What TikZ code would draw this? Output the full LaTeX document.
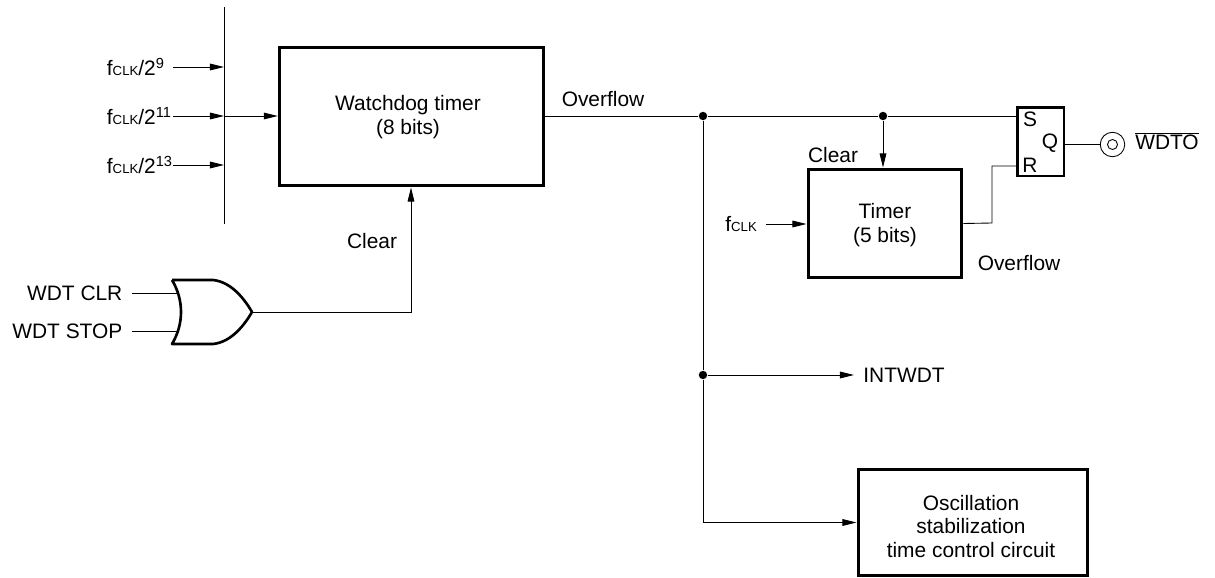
\documentclass[tikz,border=0pt]{standalone}
\usepackage{fontspec}
\setmainfont{Liberation Sans}
\usepackage{tikz}
\usetikzlibrary{arrows.meta}
\newcommand{\fclk}{f{\fontsize{7.5}{8}\selectfont CLK}}
\tikzset{
	txt/.style={font=\fontsize{11.9}{13.6}\selectfont,align=center,inner sep=0pt},
	block/.style={txt,draw,line width=1.7pt},
	wire/.style={line width=0.5pt},
	sig/.style={wire,-{Triangle[length=8pt,width=3.8pt]}},
	joint/.style={circle,fill=black,inner sep=0pt,minimum size=4.8pt},
	inlabel/.style={txt,anchor=east,text width=37.4pt,align=left},
	gatelabel/.style={txt,anchor=east,inner xsep=5pt},
	pin/.style={circle,draw,line width=0.5pt,inner sep=0pt}
}
\begin{document}
\begin{tikzpicture}[x=0.02cm,y=-0.02cm]
	\useasboundingbox (0,0) rectangle (1215,578);
	
	\node[block,minimum width=5.28cm,minimum height=2.78cm] (wdog) at (411.3,116.5) {};
	\node[txt] (wdogtext) at (408,117) {Watchdog timer\\(8 bits)};
	\node[block,minimum width=3.08cm,minimum height=2.18cm] (timer) at (885,223.5) {};
	\node[txt] (timertext) at (885,225) {Timer\\(5 bits)};
	\node[block,minimum width=4.6cm,minimum height=2.14cm] (osc) at (973,522.5) {};
	\node[txt] (osctext) at (971,526.5) {Oscillation\\stabilization\\time control circuit};
	\node[block,minimum width=0.94cm,minimum height=1.38cm] (sr) at (1040.5,141.5) {};
	
	\node[txt] (s) at (1030,119) {S};
	\node[txt] (q) at (1050,143) {Q};
	\node[txt] (r) at (1030,165) {R};
	
	\node[inlabel] (f9) at (173,67) {\fclk/2\textsuperscript{9}};
	\node[inlabel] (f11) at (173,116) {\fclk/2\textsuperscript{11}};
	\node[inlabel] (f13) at (173,165) {\fclk/2\textsuperscript{13}};
	\node[gatelabel] (ft) at (766,224) {\fclk};
	
	\node[txt] (ov1) at (603,99) {Overflow};
	\node[txt] (ov2) at (1019,263) {Overflow};
	\node[txt] (clr2) at (833,155) {Clear};
	\node[txt] (clr1) at (372,241) {Clear};
	\node[txt,anchor=west] (intwdt) at (863,375) {INTWDT};
	\node[txt] (wdto) at (1167,141) {$\overline{\mbox{WDTO}}$};
	
	\node[gatelabel] (clr) at (131.5,293.5) {WDT CLR};
	\node[gatelabel] (stop) at (131.5,331) {WDT STOP};
	
	\coordinate (bt) at (224,7);
	\coordinate (bb) at (224,224);
	\coordinate (b9) at (224,67);
	\coordinate (b11) at (224,116);
	\coordinate (b13) at (224,165);
	\draw[wire] (bt)--(bb);
	\draw[sig] (f9.east)--(b9);
	\draw[sig] (f13.east)--(b13);
	\draw[sig] (f11.east)--(b11);
	\draw[sig] (b11)--(b11 -| wdog.west);
	
	% or gate
	\draw[line width=1.5pt,line join=round] (172,280)--(213,280)
		.. controls (232,282) and (245,300) .. (252,312)
		.. controls (245,324) and (232,342) .. (213,344)
		--(172,344)
		.. controls (184,324) and (184,300) .. (172,280);
	\coordinate (g1) at (177,293.5);
	\coordinate (g2) at (177,331);
	\coordinate (gout) at (252,312);
	\coordinate (gup) at (411,312);
	\draw[wire] (clr.east)--(g1);
	\draw[wire] (stop.east)--(g2);
	\draw[sig] (gout)--(gup)--(gup |- wdog.south);
	
	\node[joint] (j1) at (703,116) {};
	\node[joint] (j2) at (883,116) {};
	\node[joint] (j3) at (703,375) {};
	\coordinate (sin) at (1017,116);
	\coordinate (jb) at (703,522.5);
	\coordinate (i1) at (854,375);
	\draw[wire] (j1 -| wdog.east)--(j1)--(j2)--(sin);
	\draw[sig] (j2)--(j2 |- timer.north);
	\draw[sig] (ft.east)--(ft.east -| timer.west);
	\draw[wire] (j1)--(j3)--(jb);
	\draw[sig] (j3)--(i1);
	\draw[sig] (jb)--(osc.west);
	
	\coordinate (r1) at (992,223);
	\coordinate (r2) at (992,166);
	\coordinate (rin) at (1017,166);
	\draw[wire] (timer.east)--(r1)--(r2)--(rin);
	
	\node[pin,minimum size=0.49cm] (term) at (1112.5,144.5) {};
	\node[pin,minimum size=0.2cm] (terminner) at (term) {};
	\draw[wire] (sr.east |- term)--(term.west);
\end{tikzpicture}
\end{document}
